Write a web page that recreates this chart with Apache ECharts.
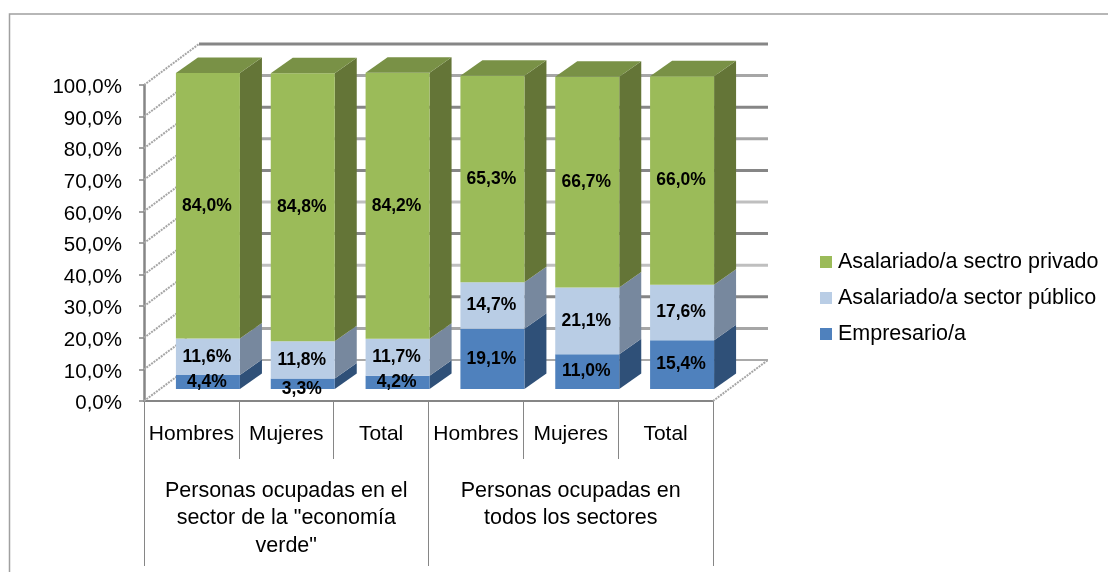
<!DOCTYPE html>
<html><head><meta charset="utf-8">
<style>html,body{margin:0;padding:0;background:#fff}#c{width:1108px;height:572px}</style>
<script src="https://cdn.jsdelivr.net/npm/echarts@6/dist/echarts.min.js"></script>
</head><body><div id="c"></div>
<script>
const categories = ['Hombres','Mujeres','Total','Hombres','Mujeres','Total'];
const groups = ['Personas ocupadas en el\nsector de la "economía\nverde"','Personas ocupadas en\ntodos los sectores'];
const empresario = [4.4,3.3,4.2,19.1,11.0,15.4];
const publico = [11.6,11.8,11.7,14.7,21.1,17.6];
const privado = [84.0,84.8,84.2,65.3,66.7,66.0];
const yTicks = [0,10,20,30,40,50,60,70,80,90,100];

const FONT = '"Liberation Sans", Arial, sans-serif';
const wall = {dx:55, dy:-41};
const plane = {dx:16.5, dy:-12};
const depth = {dx:22, dy:-15.5};
const barW = 64;
const backColors = ['#8c8c8c','#a6a6a6','#868686','#bfbfbf','#868686','#bfbfbf','#868686','#a6a6a6','#868686','#a6a6a6','#868686'];
const backWidths = [1.5,3,3,3,3,3,3,3,3,3,3];
const labelNudge = {'Empresario/a':{1:5}};

function fmt(v){return v.toFixed(1).replace('.',',')+'%';}

function bar3d(name, values, bases, colors, hasTop){
  return {
    name, type:'custom', xAxisIndex:0, yAxisIndex:0, z:5,
    itemStyle:{color:colors.front},
    data: values.map((v,i)=>[i,bases[i],bases[i]+v,v]),
    renderItem(params,api){
      const i=api.value(0), lo=api.value(1), hi=api.value(2), v=api.value(3);
      const pl=api.coord([i,lo]), ph=api.coord([i,hi]);
      const x0=pl[0]+plane.dx-barW/2, x1=x0+barW;
      const yb=pl[1]+plane.dy, yt=ph[1]+plane.dy;
      const ch=[
        {type:'polygon',shape:{points:[[x1,yb],[x1+depth.dx,yb+depth.dy],[x1+depth.dx,yt+depth.dy],[x1,yt]]},style:{fill:colors.side}},
        {type:'rect',shape:{x:x0,y:yt,width:barW,height:yb-yt},style:{fill:colors.front}}
      ];
      if(hasTop) ch.push({type:'polygon',shape:{points:[[x0,yt],[x0+depth.dx,yt+depth.dy],[x1+depth.dx,yt+depth.dy],[x1,yt]]},style:{fill:colors.top}});
      const n=(labelNudge[name]||{})[i]||0;
      ch.push({type:'text',z2:10,style:{text:fmt(v),x:(x0+x1)/2-1,y:(yb+yt)/2+n,align:'center',verticalAlign:'middle',fill:'#000',font:'bold 17.5px '+FONT}});
      return {type:'group',children:ch};
    }
  };
}
const base0=empresario.map(()=>0);
const base1=empresario.slice();
const base2=empresario.map((v,i)=>v+publico[i]);

const wallSeries={
  type:'custom', xAxisIndex:0, yAxisIndex:0, z:1, silent:true,
  data: yTicks.map((t,i)=>[t,i]),
  renderItem(params,api){
    const t=api.value(0), idx=api.value(1);
    const half=api.size([1,0])[0]/2;
    const p0=api.coord([0,t]), p5=api.coord([5,t]);
    const a=[p0[0]-half,p0[1]], b=[p5[0]+half,p5[1]];
    const bx=a[0]+wall.dx, by=a[1]+wall.dy;
    const dash={stroke:'#a6a6a6',lineWidth:2,lineDash:[2,1]};
    const ch=[
      {type:'line',shape:{x1:bx,y1:by,x2:b[0]+wall.dx,y2:by},style:{stroke:backColors[idx],lineWidth:backWidths[idx]}},
      {type:'line',shape:{x1:a[0],y1:a[1],x2:bx,y2:by},style:dash}
    ];
    if(t===0) ch.push({type:'line',shape:{x1:b[0],y1:b[1],x2:b[0]+wall.dx,y2:by},style:dash});
    return {type:'group',children:ch};
  }
};

const axisLine={lineStyle:{color:'#868686',width:2}};
const chart=echarts.init(document.getElementById('c'),null,{renderer:'canvas'});
chart.setOption({
  animation:false,
  backgroundColor:'#fff',
  textStyle:{fontFamily:FONT},
  grid:{left:144,right:395,top:85,bottom:171,containLabel:false},
  legend:{
    orient:'vertical',left:815,top:245,itemWidth:12,itemHeight:12,itemGap:12,icon:'rect',
    data:['Asalariado/a sectro privado','Asalariado/a sector público','Empresario/a'],
    textStyle:{fontSize:21.5,lineHeight:24,color:'#000',fontFamily:FONT,padding:[0,0,0,1]},
    selectedMode:false
  },
  xAxis:[
    {type:'category',data:categories,position:'bottom',axisLine:axisLine,
     axisTick:{show:true,length:58,alignWithLabel:false,lineStyle:{color:'#868686',width:1}},
     axisLabel:{interval:0,margin:23,fontSize:21,color:'#000',fontFamily:FONT,verticalAlign:'top'}},
    {type:'category',data:groups,position:'bottom',axisLine:{show:false},
     axisTick:{show:true,length:165,lineStyle:{color:'#868686',width:1}},
     axisLabel:{interval:0,margin:76,fontSize:21.5,lineHeight:27.5,color:'#000',fontFamily:FONT,verticalAlign:'top'}}
  ],
  yAxis:{type:'value',min:0,max:100,interval:10,
    axisLine:{show:true,lineStyle:{color:'#868686',width:2.5}},
    axisTick:{show:true,length:5,lineStyle:{color:'#868686',width:1.5}},
    splitLine:{show:false},
    axisLabel:{margin:22,fontSize:20.5,color:'#000',fontFamily:FONT,
      formatter:v=>'{v|'+v.toFixed(1).replace('.',',')+'%}',
      rich:{v:{fontSize:20.5,color:'#000',fontFamily:FONT,padding:[5,0,0,0]}}}},
  graphic:[
    {type:'polyline',z:0,silent:true,shape:{points:[[9.5,572],[9.5,14],[1108,14]]},style:{fill:null,stroke:'#a0a0a0',lineWidth:1.5}}
  ],
  series:[
    wallSeries,
    bar3d('Empresario/a',empresario,base0,{front:'#4F81BD',side:'#2F5078',top:'#3F6797'},false),
    bar3d('Asalariado/a sector público',publico,base1,{front:'#B9CDE5',side:'#77889E',top:'#94A4B7'},false),
    bar3d('Asalariado/a sectro privado',privado,base2,{front:'#9BBB59',side:'#647537',top:'#799146'},true)
  ]
});
</script></body></html>
